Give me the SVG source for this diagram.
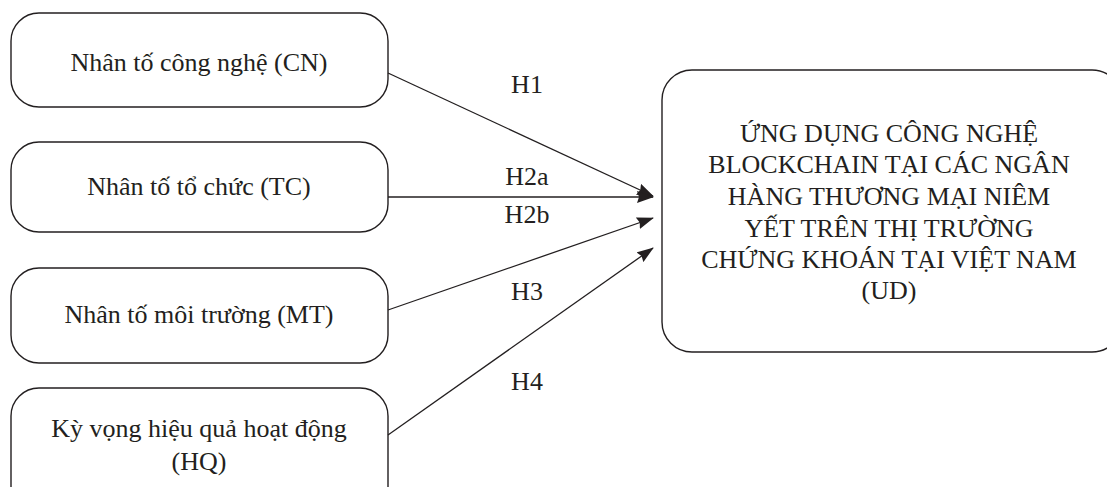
<svg xmlns="http://www.w3.org/2000/svg" width="1107" height="487" viewBox="0 0 1107 487">
<style>
.box{fill:#fff;stroke:#231f20;stroke-width:1.4}
.t{font-family:"Liberation Serif","DejaVu Serif",serif;font-size:26px;fill:#231f20;text-anchor:middle}
.c{stroke:#231f20;stroke-width:1.3;fill:none;marker-end:url(#ah)}
</style>
<defs>
<marker id="ah" markerWidth="17" markerHeight="12" refX="16" refY="6" orient="auto" markerUnits="userSpaceOnUse">
<path d="M0,0 L17,6 L0,12 L2,6 Z" fill="#231f20"/>
</marker>
</defs>
<g id="n-cn"><rect class="box" x="11" y="13" width="377" height="94" rx="28"/><text class="t" x="199" y="71">Nhân tố công nghệ (CN)</text></g>
<g id="n-tc"><rect class="box" x="11" y="142" width="377" height="90" rx="28"/><text class="t" x="199" y="195">Nhân tố tổ chức (TC)</text></g>
<g id="n-mt"><rect class="box" x="11" y="268" width="377" height="95" rx="28"/><text class="t" x="199" y="323">Nhân tố môi trường (MT)</text></g>
<g id="n-hq"><rect class="box" x="11" y="388" width="377" height="130" rx="28"/><text class="t" x="199" y="437">Kỳ vọng hiệu quả hoạt động</text><text class="t" x="199" y="470">(HQ)</text></g>
<g id="n-ud"><rect class="box" x="662" y="70" width="460" height="282" rx="30"/>
<text class="t" x="889" y="142">ỨNG DỤNG CÔNG NGHỆ</text>
<text class="t" x="889" y="173">BLOCKCHAIN TẠI CÁC NGÂN</text>
<text class="t" x="889" y="205">HÀNG THƯƠNG MẠI NIÊM</text>
<text class="t" x="889" y="237">YẾT TRÊN THỊ TRƯỜNG</text>
<text class="t" x="889" y="268">CHỨNG KHOÁN TẠI VIỆT NAM</text>
<text class="t" x="889" y="299">(UD)</text>
</g>
<g id="connectors">
<line class="c" x1="388" y1="73" x2="653" y2="196"/>
<line class="c" x1="388" y1="197" x2="653" y2="197"/>
<line class="c" x1="388" y1="310" x2="653" y2="218"/>
<line class="c" x1="388" y1="435" x2="653" y2="248"/>
<text class="t" x="527" y="93">H1</text>
<text class="t" x="527" y="185">H2a</text>
<text class="t" x="527" y="223">H2b</text>
<text class="t" x="527" y="300">H3</text>
<text class="t" x="527" y="390">H4</text>
</g>
</svg>
